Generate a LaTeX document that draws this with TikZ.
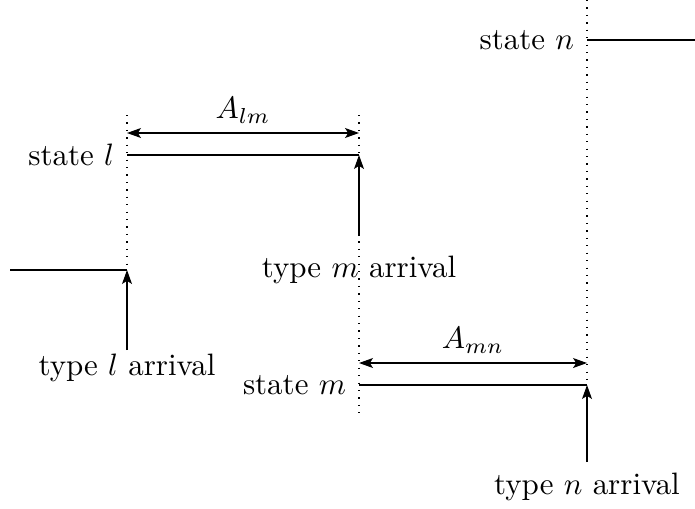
\documentclass[tikz,border=0pt]{standalone}
\usetikzlibrary{arrows.meta}
\begin{document}
\begin{tikzpicture}[x=0.323pt,y=-0.323pt,
  stateline/.style={line width=0.6pt},
  guide/.style={dotted,line width=0.4pt},
  arrivalarrow/.style={line width=0.4pt,-{Stealth[length=4.5pt,width=3.2pt,inset=1pt]}},
  span/.style={line width=0.4pt,{Stealth[length=4.5pt,width=3.2pt,inset=1pt]}-{Stealth[length=4.5pt,width=3.2pt,inset=1pt]}},
  lbl/.style={inner sep=0pt}]
\useasboundingbox (0,0) rectangle (695,508);
% points
\coordinate (l0) at (10,270);
\coordinate (l1) at (127,270);
\coordinate (ls) at (127,155);
\coordinate (le) at (359,155);
\coordinate (ms) at (359,385);
\coordinate (me) at (587,385);
\coordinate (ns) at (587,40);
\coordinate (ne) at (695,40);
\coordinate (g1t) at (127,115);
\coordinate (g2t) at (359,115);
\coordinate (g2b) at (359,417);
\coordinate (g3t) at (587,0);
\coordinate (al) at (127,133);
\coordinate (ar) at (359,133);
\coordinate (bl) at (359,363);
\coordinate (br) at (587,363);
\coordinate (tl) at (127,350);
\coordinate (tm) at (359,236);
\coordinate (tn) at (587,462);
% guides
\draw[guide] (g1t) -- (l1);
\draw[guide] (g2t) -- (g2b);
\draw[guide] (g3t) -- (me);
% state lines
\draw[stateline] (l0) -- (l1);
\draw[stateline] (ls) -- (le);
\draw[stateline] (ms) -- (me);
\draw[stateline] (ns) -- (ne);
% spans
\draw[span] (al) -- node[lbl,above=3pt] (Alm) {$A_{lm}$} (ar);
\draw[span] (bl) -- node[lbl,above=3pt] (Amn) {$A_{mn}$} (br);
% arrivals
\draw[arrivalarrow] (tl) -- (l1);
\draw[arrivalarrow] (tm) -- (le);
\draw[arrivalarrow] (tn) -- (me);
\node[lbl,below=1pt,anchor=north] (tyl) at (tl) {type $l$ arrival};
\node[lbl,below=6.2pt] (tym) at (tm) {type $m$ arrival};
\node[lbl,below=3.2pt] (tyn) at (tn) {type $n$ arrival};
% state labels
\node[lbl,left=4pt] (sl) at (ls) {state $l$};
\node[lbl,left=4pt] (sm) at (ms) {state $m$};
\node[lbl,left=4pt] (sn) at (ns) {state $n$};
\end{tikzpicture}
\end{document}
